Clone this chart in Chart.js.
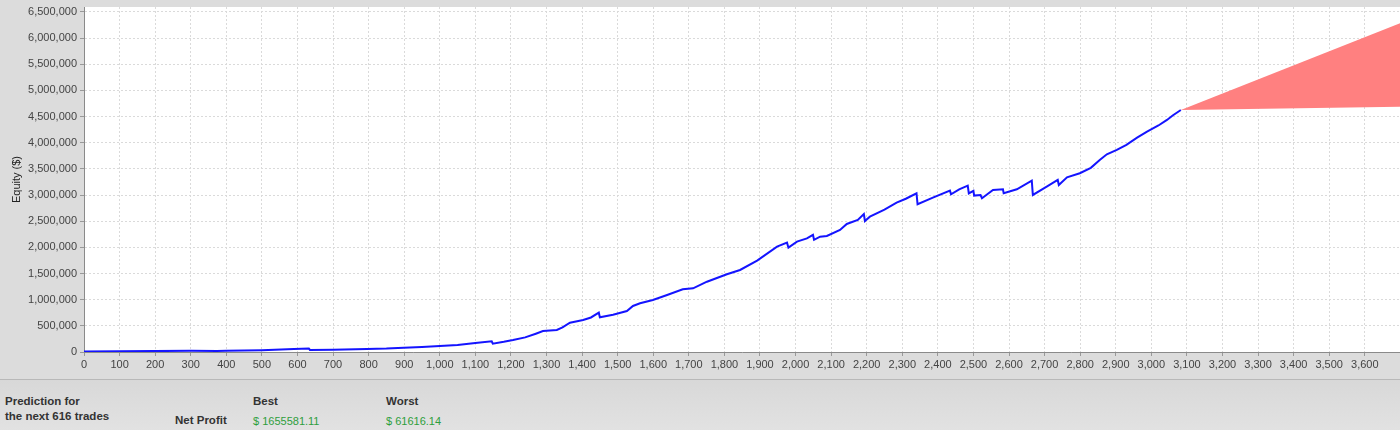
<!DOCTYPE html>
<html><head><meta charset="utf-8">
<script src="https://cdn.jsdelivr.net/npm/chart.js@4/dist/chart.umd.min.js"></script>
<style>
html,body{margin:0;padding:0;background:#dcdcdc;width:1400px;height:430px;overflow:hidden;font-family:"Liberation Sans",Arial,sans-serif}
#wrap{position:absolute;left:0;top:0;width:1400px;height:380px}
#panel{position:absolute;left:0;top:379px;width:1400px;height:51px;background:linear-gradient(#d8d8d8,#e2e2e2);border-top:1px solid #b8b8b8}
.t{position:absolute;font-size:11.5px;line-height:14px;color:#333;white-space:nowrap}
.b{font-weight:bold}
.g{color:#2e9e3c;font-size:11px}
</style></head><body>
<div id="wrap"><canvas id="c" width="1400" height="380"></canvas></div>
<div id="panel">
  <div class="t b" style="left:5px;top:14px">Prediction for</div>
  <div class="t b" style="left:5px;top:29px">the next 616 trades</div>
  <div class="t b" style="left:175px;top:33px">Net Profit</div>
  <div class="t b" style="left:253px;top:14px">Best</div>
  <div class="t g" style="left:253px;top:34px">$ 1655581.11</div>
  <div class="t b" style="left:386px;top:14px">Worst</div>
  <div class="t g" style="left:386px;top:34px">$ 61616.14</div>
</div>
<script>
// ---- data ----
const trades = [0,100,200,300,374,400,500,590,632,635,700,795,850,899,950,1000,1050,1100,1146,1149,1180,1206,1240,1270,1290,1329,1345,1366,1403,1425,1447,1450,1487,1526,1543,1563,1599,1639,1683,1712,1751,1807,1844,1892,1948,1976,1980,2004,2032,2049,2052,2069,2088,2125,2144,2175,2192,2195,2209,2250,2284,2310,2340,2343,2386,2434,2437,2460,2484,2487,2500,2502,2520,2524,2555,2583,2585,2622,2664,2667,2706,2737,2740,2763,2799,2830,2855,2875,2903,2930,2960,2988,3020,3044,3060,3083];
const equity = [10000,12000,18000,22000,20000,25000,35000,55000,68000,40000,45000,57000,65000,82000,95000,115000,135000,170000,205000,160000,195000,229000,280000,350000,400000,420000,470000,560000,612000,660000,752000,663000,713000,784000,880000,931000,994000,1090000,1199000,1218000,1344000,1486000,1568000,1746000,2014000,2090000,1994000,2109000,2173000,2240000,2145000,2205000,2218000,2333000,2447000,2524000,2638000,2505000,2587000,2720000,2855000,2930000,3034000,2824000,2950000,3084000,3015000,3110000,3180000,3030000,3080000,2990000,3000000,2938000,3097000,3110000,3034000,3110000,3276000,3002000,3161000,3289000,3193000,3340000,3417000,3520000,3671000,3780000,3862000,3960000,4098000,4212000,4330000,4436000,4520000,4627000];
const predTrades = [3083, 3699];
const predBest = [4627000, 6282581];
const predWorst = [4627000, 4688617];
const xTicks = [0,100,200,300,400,500,600,700,800,900,1000,1100,1200,1300,1400,1500,1600,1700,1800,1900,2000,2100,2200,2300,2400,2500,2600,2700,2800,2900,3000,3100,3200,3300,3400,3500,3600];
const yTicks = [0,500000,1000000,1500000,2000000,2500000,3000000,3500000,4000000,4500000,5000000,5500000,6000000,6500000];
const xMax = 3699, yMax = 6595000;

const fmt = v => Number(v).toLocaleString('en-US');
const pts = (xs, ys) => xs.map((x,i)=>({x, y: ys[i]}));

const plotBg = {
  id:'plotBg',
  beforeDraw(chart){
    const {ctx, chartArea:a} = chart;
    ctx.save(); ctx.fillStyle='#ffffff';
    ctx.fillRect(a.left, a.top, a.right-a.left, a.bottom-a.top);
    ctx.restore();
  }
};
const font = {family:'"Liberation Sans", Arial, sans-serif', size:11};

new Chart(document.getElementById('c'), {
  type:'line',
  data:{datasets:[
    {data:pts(trades,equity), borderColor:'#1414ff', borderWidth:2, pointRadius:0, tension:0, fill:false, order:1},
    {data:pts(predTrades,predWorst), borderColor:'rgba(0,0,0,0)', borderWidth:0, pointRadius:0, fill:false, order:2},
    {data:pts(predTrades,predBest), borderColor:'rgba(0,0,0,0)', borderWidth:0, pointRadius:0, fill:'-1', backgroundColor:'#ff8080', order:2}
  ]},
  options:{
    responsive:false, animation:false, devicePixelRatio:1,
    layout:{padding:{top:7,left:0,right:0,bottom:0}},
    plugins:{legend:{display:false}, tooltip:{enabled:false}},
    scales:{
      x:{type:'linear', min:0, max:xMax,
        afterBuildTicks:s=>{s.ticks = xTicks.map(v=>({value:v}));},
        afterFit:s=>{s.height=28; s.paddingLeft=0; s.paddingRight=0;},
        grid:{color:'#dadada', tickLength:4, tickColor:'#999', tickBorderDash:[]},
        border:{display:true, color:'#8a8a8a', width:1, dash:[2,2]},
        ticks:{font, color:'#444', padding:2, maxRotation:0, autoSkip:false, callback:v=>fmt(v)}
      },
      y:{type:'linear', min:0, max:yMax,
        afterBuildTicks:s=>{s.ticks = yTicks.map(v=>({value:v}));},
        afterFit:s=>{s.width=84; s.paddingTop=0; s.paddingBottom=0;},
        grid:{color:'#dadada', tickLength:4, tickColor:'#999', tickBorderDash:[]},
        border:{display:true, color:'#8a8a8a', width:1, dash:[2,2]},
        title:{display:true, text:'Equity ($)', font, color:'#222', padding:{top:10,bottom:0}},
        ticks:{font, color:'#444', padding:3, autoSkip:false, callback:v=>fmt(v)}
      }
    }
  },
  plugins:[plotBg]
});
</script>
</body></html>
